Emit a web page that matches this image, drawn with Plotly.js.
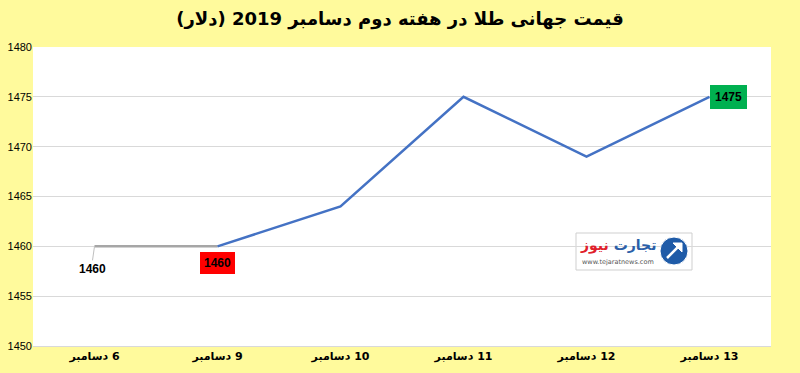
<!DOCTYPE html>
<html>
<head>
<meta charset="utf-8">
<script src="https://cdn.plot.ly/plotly-3.0.1.min.js"></script>
<style>html,body{margin:0;padding:0;background:#FFFA9C;}</style>
</head>
<body>
<div id="chart" style="width:800px;height:373px;"></div>
<script>
const RLM = '\u200F';
const categories = ['6 دسامبر', '9 دسامبر', '10 دسامبر', '11 دسامبر', '12 دسامبر', '13 دسامبر'];
const prices = [1460, 1460, 1464, 1475, 1469, 1475];
const yTicks = [1450, 1455, 1460, 1465, 1470, 1475, 1480];
const titleText = 'قیمت جهانی طلا در هفته دوم دسامبر 2019 (دلار)';
const logoUrl = 'www.tejaratnews.com';

const cats = categories.map(c => RLM + c);

const traces = [
  {x: cats.slice(0, 2), y: prices.slice(0, 2), type: 'scatter', mode: 'lines',
   line: {color: '#A6A6A6', width: 2.5}, hoverinfo: 'skip'},
  {x: cats.slice(1), y: prices.slice(1), type: 'scatter', mode: 'lines',
   line: {color: '#4472C4', width: 2.5}, hoverinfo: 'skip'}
];

const last = cats.length - 1;
const px = v => (v - 33) / 738;
const py = v => (346 - v) / 299;
const layout = {
  width: 800, height: 373,
  paper_bgcolor: '#FFFA9C', plot_bgcolor: '#FFFFFF',
  showlegend: false,
  margin: {l: 33, r: 29, t: 47, b: 27},
  title: {text: RLM + titleText, x: 0.5, xanchor: 'center', y: 0.95, yanchor: 'middle',
          font: {family: 'DejaVu Sans', size: 18, color: '#000', weight: 'bold'}},
  xaxis: {type: 'category', categoryorder: 'array', categoryarray: cats,
          range: [-0.5, cats.length - 0.5], showgrid: false, zeroline: false,
          showline: true, linecolor: '#D9D9D9', linewidth: 1, ticks: '',
          tickfont: {family: 'DejaVu Sans', size: 11, color: '#000', weight: 'bold'}},
  yaxis: {range: [1450, 1480], tickvals: yTicks, ticktext: yTicks.map(String),
          showgrid: true, gridcolor: '#D9D9D9', gridwidth: 1, zeroline: false,
          showline: false, ticks: '',
          tickfont: {family: 'Liberation Sans', size: 11, color: '#000'}},
  annotations: [
    {x: cats[0], y: prices[0], xref: 'x', yref: 'y', text: '<b>' + prices[0] + '</b>',
     showarrow: true, arrowhead: 0, arrowwidth: 1, arrowcolor: '#BFBFBF', ax: -2, ay: 14,
     yanchor: 'top', font: {family: 'Liberation Sans', size: 12, color: '#000'}},
    {x: cats[1], y: prices[1], xref: 'x', yref: 'y', text: '<b>' + prices[1] + '</b>',
     showarrow: false, yshift: -17, bgcolor: '#FF0000', bordercolor: '#FF0000',
     borderpad: 3, font: {family: 'Liberation Sans', size: 12, color: '#000'}},
    {x: cats[last], y: prices[last], xref: 'x', yref: 'y', text: '<b>' + prices[last] + '</b>',
     showarrow: false, xshift: 19, bgcolor: '#00B050', bordercolor: '#00B050',
     borderpad: 4, font: {family: 'Liberation Sans', size: 12, color: '#000'}},
    {xref: 'paper', yref: 'paper', x: px(618), y: py(245), xanchor: 'center', yanchor: 'middle',
     text: '<b><span style="color:#2B5FA8">تجارت </span><span style="color:#E0202A">نیوز</span></b>',
     showarrow: false, font: {family: 'DejaVu Sans', size: 14}},
    {xref: 'paper', yref: 'paper', x: px(618), y: py(262), xanchor: 'center', yanchor: 'middle',
     text: logoUrl, showarrow: false, font: {family: 'DejaVu Sans', size: 6.5, color: '#555'}}
  ],
  shapes: [
    {type: 'rect', xref: 'paper', yref: 'paper',
     x0: px(576), x1: px(692), y0: py(270), y1: py(233),
     line: {color: '#CFCFCF', width: 1}, fillcolor: '#FFFFFF', layer: 'below'},
    {type: 'circle', xref: 'paper', yref: 'paper',
     x0: px(660), x1: px(688), y0: py(265), y1: py(237),
     line: {color: '#FFFFFF', width: 1}, fillcolor: '#1F5BA8'},
    {type: 'line', xref: 'paper', yref: 'paper',
     x0: px(667), x1: px(681), y0: py(258), y1: py(244),
     line: {color: '#FFFFFF', width: 2.5}},
    {type: 'path', xref: 'paper', yref: 'paper',
     path: 'M ' + px(673) + ',' + py(243) + ' L ' + px(682) + ',' + py(243) + ' L ' + px(682) + ',' + py(252) + ' Z',
     line: {color: '#FFFFFF', width: 1}, fillcolor: '#FFFFFF'}
  ]
};

Plotly.newPlot('chart', traces, layout, {displayModeBar: false, staticPlot: true});
</script>
</body>
</html>
